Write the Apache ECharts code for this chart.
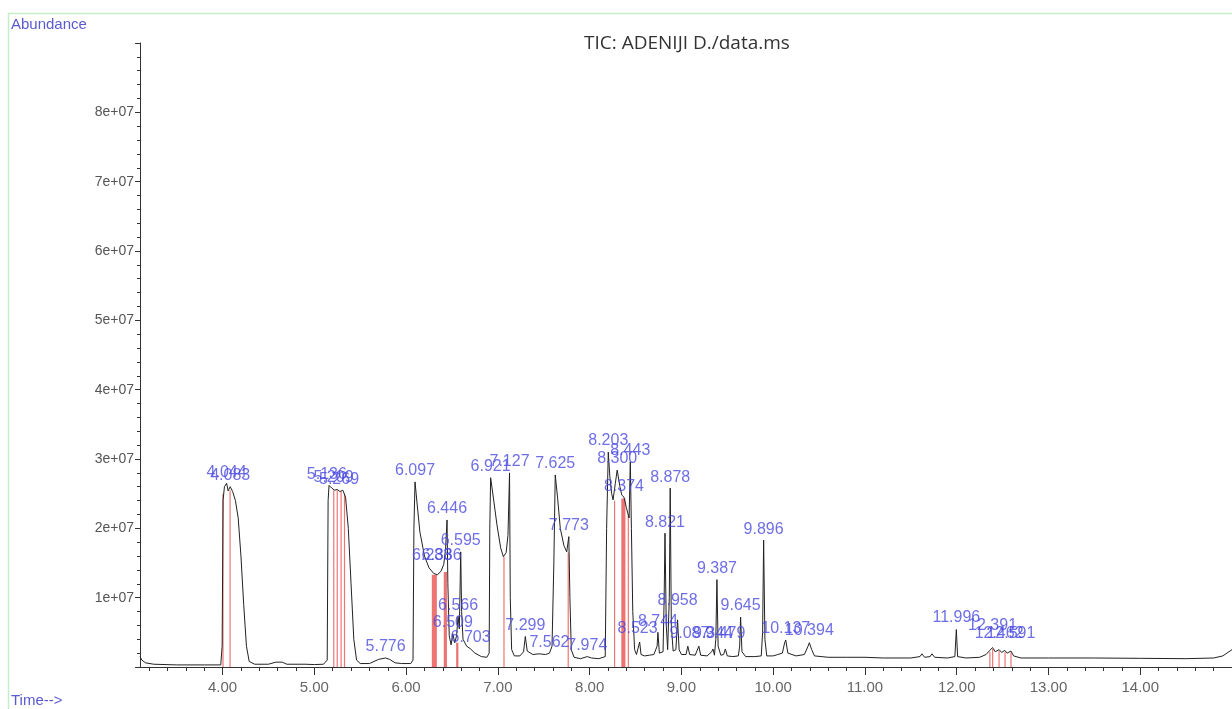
<!DOCTYPE html>
<html><head><meta charset="utf-8">
<script src="https://cdn.jsdelivr.net/npm/echarts@6/dist/echarts.min.js"></script>
<style>html,body{margin:0;padding:0;background:#fff}#c{width:1232px;height:709px}</style>
</head><body><div id="c"></div>
<script>
// Total ion chromatogram: [time (min), abundance (millions)]
const ticTrace = [
[3.10,1.5],[3.12,1.0],[3.16,0.6],[3.25,0.4],[3.5,0.3],[3.8,0.3],[3.98,0.3],
[3.995,3],[4.005,24],[4.02,26.0],[4.044,26.5],[4.06,25.4],[4.083,26.0],[4.11,25.3],[4.14,24.0],[4.17,21.5],[4.20,16],[4.23,9],[4.26,3],[4.29,0.8],[4.35,0.4],
[4.5,0.4],[4.58,0.7],[4.65,0.7],[4.7,0.4],[4.9,0.4],[5.0,0.35],[5.1,0.4],
[5.14,1],[5.150,24],[5.16,26.2],[5.19,25.8],[5.22,25.5],[5.25,25.6],[5.28,25.3],[5.31,25.5],[5.34,24.5],[5.37,20],[5.40,12],[5.43,4],[5.46,1.0],[5.5,0.5],[5.6,0.5],
[5.65,0.8],[5.7,1.1],[5.776,1.3],[5.82,1.1],[5.88,0.6],[5.95,0.5],[6.05,0.5],[6.075,1],
[6.085,20],[6.097,26.7],[6.12,23.5],[6.15,19.5],[6.20,16.0],[6.25,14.3],[6.30,13.5],[6.34,13.3],[6.38,13.8],[6.41,14.8],[6.43,17],[6.446,21.2],[6.455,12],[6.47,4.5],[6.49,3.2],[6.509,4.8],[6.53,3.5],[6.55,4.5],[6.566,7.3],[6.58,5.5],[6.595,16.6],[6.605,8],[6.62,4],[6.66,3.0],[6.703,2.6],[6.75,2.0],[6.82,1.5],[6.88,1.4],[6.905,2],
[6.912,20],[6.921,27.3],[6.95,24.5],[6.99,20.5],[7.03,17.2],[7.06,15.9],[7.09,16.5],[7.11,19],[7.127,28.0],[7.135,10],[7.15,2.5],[7.18,1.6],[7.24,1.6],[7.28,2.2],[7.299,4.4],[7.32,2.3],[7.38,1.8],[7.45,1.9],[7.52,1.8],[7.562,2.0],[7.59,3.0],[7.61,15],
[7.625,27.7],[7.65,24.5],[7.68,20],[7.72,17.5],[7.75,16.6],[7.773,18.8],[7.785,10],[7.80,2.5],[7.83,1.4],[7.9,1.2],[7.974,1.5],[8.02,1.3],[8.1,1.2],[8.17,1.5],
[8.185,20],[8.203,31],[8.22,27.5],[8.24,25],[8.255,24.1],[8.28,26.5],[8.300,28.4],[8.33,26],[8.35,24.8],[8.374,24.5],[8.40,23.0],[8.43,21.5],[8.443,29.6],[8.455,20],[8.47,8],[8.49,2.5],[8.51,1.8],
[8.53,1.8],[8.545,3.6],[8.56,1.8],[8.6,1.6],[8.65,1.7],[8.70,1.8],[8.735,3],[8.744,5.0],[8.76,2],[8.80,2.2],[8.812,10],[8.821,19.3],[8.835,6],[8.85,2.5],[8.868,10],[8.878,25.8],[8.89,6],[8.91,2.3],[8.94,2.5],[8.958,6.8],[8.975,2.5],[9.0,1.8],[9.05,1.8],[9.07,3.0],[9.09,1.8],[9.15,1.7],[9.19,3.0],[9.21,1.7],[9.28,1.6],[9.33,2.2],[9.344,2.6],[9.36,1.7],[9.375,4],[9.387,12.6],[9.40,3],[9.43,1.7],[9.46,1.8],[9.479,2.6],[9.50,1.6],[9.56,1.5],[9.62,1.6],[9.635,3],[9.645,7.2],[9.66,2.2],[9.70,1.5],[9.80,1.5],[9.87,1.6],[9.885,5],[9.896,18.3],[9.91,4],[9.93,1.6],[10.0,1.6],[10.05,1.8],[10.1,2],[10.125,3.5],[10.137,3.9],[10.16,2.0],[10.25,1.6],[10.34,1.8],[10.38,3.0],[10.394,3.5],[10.42,2.5],[10.45,1.6],[10.6,1.4],[10.8,1.4],[11.0,1.4],[11.2,1.3],[11.5,1.3],[11.6,1.5],[11.62,1.9],[11.65,1.4],[11.71,1.5],[11.73,1.9],[11.76,1.4],[11.9,1.3],[11.98,1.5],[11.996,5.4],[12.01,1.5],[12.1,1.3],[12.25,1.4],[12.32,1.8],[12.36,2.4],[12.391,2.8],[12.42,2.2],[12.462,2.5],[12.49,2.1],[12.524,2.4],[12.55,2.0],[12.591,2.3],[12.62,1.6],[12.7,1.3],[13.0,1.3],[13.5,1.3],[14.0,1.25],[14.5,1.2],[14.8,1.3],[14.9,1.6],[15.0,2.5]
];

// Integration markers (red): [start time, end time, abundance (millions)]
const integrationMarks = [
[3.998,4.010,25.0],[4.075,4.087,25.5],
[5.205,5.215,25.5],[5.243,5.253,25.5],[5.285,5.295,25.3],[5.322,5.332,25.0],
[6.28,6.335,13.3],[6.41,6.445,13.7],[6.545,6.57,3.5],
[7.06,7.073,15.9],[7.76,7.773,16.5],
[8.265,8.275,24],[8.345,8.39,24.3],[8.415,8.425,22],
[12.355,12.365,2.2],[12.385,12.395,2.6],[12.455,12.465,2.3],[12.52,12.53,2.2],[12.585,12.595,2.1]
];

// Peak retention-time labels: [time, apex abundance (millions), text]
const peakLabels = [
[4.044,26.5,'4.044'],[4.083,26.0,'4.083'],
[5.136,26.2,'5.136'],[5.209,25.8,'5.209'],[5.269,25.5,'5.269'],
[5.776,1.3,'5.776'],[6.097,26.7,'6.097'],
[6.283,14.5,'6.283'],[6.386,14.5,'6.386'],[6.446,21.2,'6.446'],
[6.509,4.8,'6.509'],[6.566,7.3,'6.566'],[6.595,16.6,'6.595'],[6.703,2.6,'6.703'],
[6.921,27.3,'6.921'],[7.127,28.0,'7.127'],[7.299,4.4,'7.299'],[7.562,2.0,'7.562'],
[7.625,27.7,'7.625'],[7.773,18.8,'7.773'],[7.974,1.5,'7.974'],
[8.203,31,'8.203'],[8.300,28.4,'8.300'],[8.374,24.5,'8.374'],[8.443,29.6,'8.443'],
[8.523,3.9,'8.523'],[8.744,5.0,'8.744'],[8.821,19.3,'8.821'],[8.878,25.8,'8.878'],
[8.958,8.0,'8.958'],[9.087,3.2,'9.087'],[9.344,3.2,'9.344'],[9.387,12.6,'9.387'],
[9.479,3.2,'9.479'],[9.645,7.2,'9.645'],[9.896,18.3,'9.896'],
[10.137,3.9,'10.137'],[10.394,3.6,'10.394'],
[11.996,5.6,'11.996'],[12.391,4.4,'12.391'],[12.462,3.3,'12.462'],[12.591,3.3,'12.591']
];

const xMajorTicks = [4,5,6,7,8,9,10,11,12,13,14];
const xTickLabels = ['4.00','5.00','6.00','7.00','8.00','9.00','10.00','11.00','12.00','13.00','14.00'];
const yTickLabels = ['1e+07','2e+07','3e+07','4e+07','5e+07','6e+07','7e+07','8e+07'];

const xMinorTicks = [];
for (let i = 16; i <= 74; i++) { if (i % 5 !== 0) xMinorTicks.push(i / 5); }

const chart = echarts.init(document.getElementById('c'), null, {renderer:'canvas'});
const axisColor = '#333';
chart.setOption({
  animation:false,
  backgroundColor:'#ffffff',
  title:{
    text:'TIC: ADENIJI D./data.ms', left:579, top:29,
    textStyle:{fontFamily:'Open Sans', fontSize:19, fontWeight:'normal', color:'#333'}
  },
  graphic:[
    {type:'line', shape:{x1:8,y1:13.5,x2:1232,y2:13.5}, style:{stroke:'#c4eecb', lineWidth:1.5}, silent:true},
    {type:'line', shape:{x1:8.5,y1:13,x2:8.5,y2:709}, style:{stroke:'#c4eecb', lineWidth:1.5}, silent:true},
    {type:'text', left:11, top:17, style:{text:'Abundance', fill:'#5a5ad0', font:'15px "Liberation Sans", Arial, sans-serif'}},
    {type:'text', left:11, top:693, style:{text:'Time-->', fill:'#5a5ad0', font:'15px "Liberation Sans", Arial, sans-serif'}}
  ],
  grid:{left:140, right:0, top:43, bottom:42, containLabel:false},
  xAxis:[{
    type:'value', min:3.1, max:15, position:'bottom',
    axisLine:{show:true, onZero:false, lineStyle:{color:axisColor, width:1}},
    axisTick:{show:true, customValues:xMajorTicks, length:8, lineStyle:{color:axisColor}},
    axisLabel:{show:true, customValues:xMajorTicks, margin:13, color:'#666', fontSize:15, fontFamily:'Liberation Sans',
      formatter:(v)=>{const i=xMajorTicks.indexOf(Math.round(v)); return i>=0?xTickLabels[i]:'';}},
    splitLine:{show:false}
  },{
    type:'value', min:3.1, max:15, position:'bottom',
    axisLine:{show:false, onZero:false},
    axisTick:{show:true, customValues:xMinorTicks, length:4, lineStyle:{color:axisColor}},
    axisLabel:{show:false},
    splitLine:{show:false}
  }],
  yAxis:{
    type:'value', min:0, max:90, interval:10,
    axisLine:{show:true, lineStyle:{color:axisColor, width:1}},
    axisTick:{show:true, length:5, lineStyle:{color:axisColor}},
    minorTick:{show:true, splitNumber:5, length:3, lineStyle:{color:axisColor}},
    axisLabel:{margin:6, color:'#555', fontSize:14, fontFamily:'Liberation Sans',
      formatter:(v)=>{const i=Math.round(v/10)-1; return (i>=0 && i<yTickLabels.length)?yTickLabels[i]:'';}},
    splitLine:{show:false}
  },
  series:[
    {
      type:'custom', xAxisIndex:0, z:1, silent:true,
      data:integrationMarks,
      renderItem:(params, api)=>{
        const p1 = api.coord([api.value(0), api.value(2)]);
        const p2 = api.coord([api.value(1), 0]);
        const w = Math.max(1.2, p2[0]-p1[0]);
        return {type:'rect', shape:{x:p1[0], y:p1[1], width:w, height:p2[1]-p1[1]},
          style:{fill:'#e84545', opacity:0.75}};
      }
    },
    {
      type:'line', xAxisIndex:0, z:2, data:ticTrace, showSymbol:false, symbol:'none',
      lineStyle:{color:'#222', width:1}, silent:true
    },
    {
      type:'scatter', xAxisIndex:0, z:3, symbolSize:0, silent:true,
      data:peakLabels.map(d=>({value:[d[0], d[1]], name:d[2]})),
      label:{show:true, position:'top', distance:3, formatter:(p)=>p.name,
        color:'#4a4ae0', fontSize:16, fontFamily:'Liberation Sans'}
    }
  ]
});
</script>
</body></html>
